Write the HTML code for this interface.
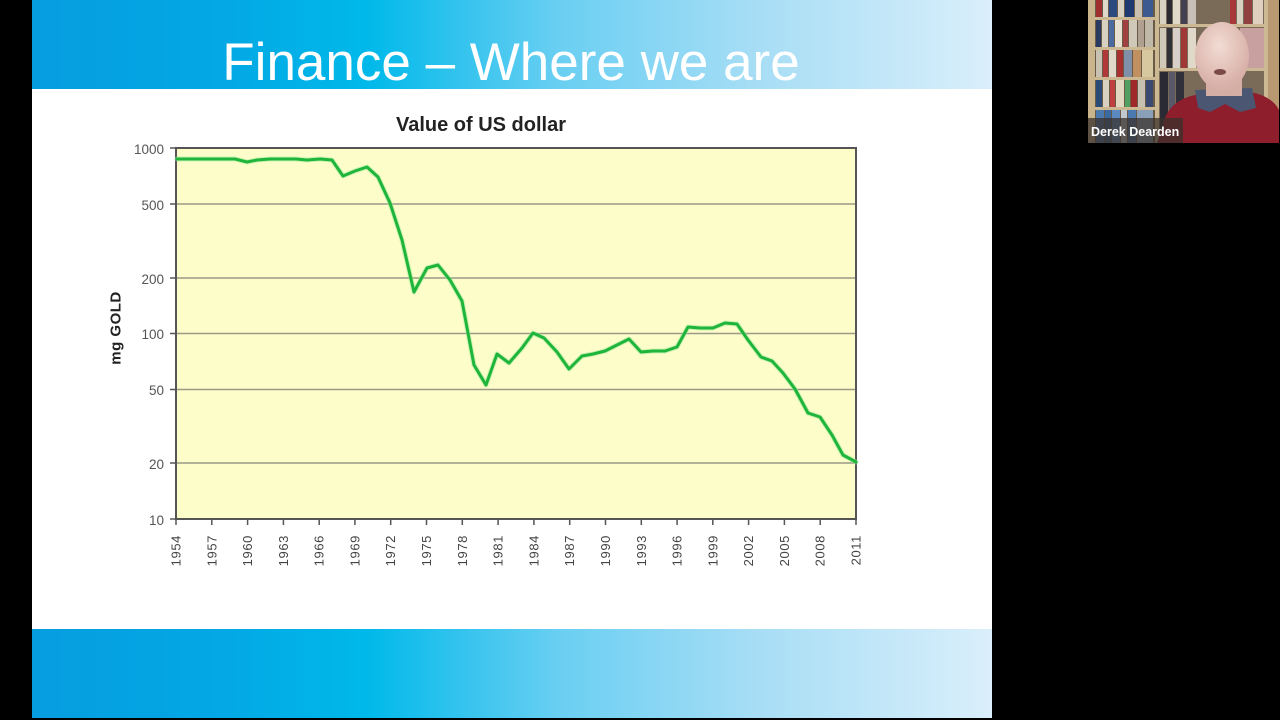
<!DOCTYPE html>
<html>
<head>
<meta charset="utf-8">
<style>
html,body{margin:0;padding:0;background:#000;}
body{width:1280px;height:720px;overflow:hidden;position:relative;}
svg{position:absolute;left:0;top:0;}
</style>
</head>
<body>
<svg width="1280" height="720" viewBox="0 0 1280 720" xmlns="http://www.w3.org/2000/svg">
  <defs>
    <linearGradient id="bar" x1="0" y1="0" x2="1" y2="0">
      <stop offset="0" stop-color="#069ddf"/>
      <stop offset="0.2" stop-color="#03a8e4"/>
      <stop offset="0.35" stop-color="#00b9ea"/>
      <stop offset="0.55" stop-color="#6acff2"/>
      <stop offset="0.75" stop-color="#a6ddf5"/>
      <stop offset="1" stop-color="#daeffb"/>
    </linearGradient>
    <radialGradient id="head" cx="0.45" cy="0.35" r="0.6">
      <stop offset="0" stop-color="#f2dcd4"/>
      <stop offset="1" stop-color="#d8b0a8"/>
    </radialGradient>
  </defs>

  <rect x="0" y="0" width="1280" height="720" fill="#000"/>
  <!-- slide -->
  <rect x="32" y="0" width="960" height="718" fill="#ffffff"/>
  <rect x="32" y="0" width="960" height="89" fill="url(#bar)"/>
  <rect x="32" y="629" width="960" height="89" fill="url(#bar)"/>

  <text x="511" y="80" font-family="Liberation Sans, Arial, sans-serif" font-size="53" fill="#ffffff" text-anchor="middle">Finance – Where we are</text>

  <!-- chart title -->
  <text x="481" y="131" font-family="Liberation Sans, Arial, sans-serif" font-size="20" font-weight="bold" fill="#222" text-anchor="middle">Value of US dollar</text>

  <!-- plot area -->
  <rect x="176" y="148" width="680" height="371" fill="#fdfdc9"/>
  <g stroke="#9a9a86" stroke-width="1.5">
    <line x1="176" y1="204" x2="856" y2="204"/>
    <line x1="176" y1="278" x2="856" y2="278"/>
    <line x1="176" y1="333.5" x2="856" y2="333.5"/>
    <line x1="176" y1="389.5" x2="856" y2="389.5"/>
    <line x1="176" y1="463" x2="856" y2="463"/>
  </g>
  <rect x="176" y="148" width="680" height="371" fill="none" stroke="#555" stroke-width="2"/>

  <!-- y ticks -->
  <g stroke="#555" stroke-width="1.5">
    <line x1="170" y1="148" x2="176" y2="148"/>
    <line x1="170" y1="204" x2="176" y2="204"/>
    <line x1="170" y1="278" x2="176" y2="278"/>
    <line x1="170" y1="333.5" x2="176" y2="333.5"/>
    <line x1="170" y1="389.5" x2="176" y2="389.5"/>
    <line x1="170" y1="463" x2="176" y2="463"/>
    <line x1="170" y1="519" x2="176" y2="519"/>
  </g>
  <g font-family="Liberation Sans, Arial, sans-serif" font-size="13.5" fill="#555" text-anchor="end">
    <text x="164" y="154">1000</text>
    <text x="164" y="210">500</text>
    <text x="164" y="284">200</text>
    <text x="164" y="339">100</text>
    <text x="164" y="395">50</text>
    <text x="164" y="469">20</text>
    <text x="164" y="525">10</text>
  </g>
  <text transform="translate(120.5,328) rotate(-90)" font-family="Liberation Sans, Arial, sans-serif" font-size="15" font-weight="bold" fill="#222" text-anchor="middle" letter-spacing="0.5">mg GOLD</text>

  <!-- x ticks & labels -->
  <g stroke="#555" stroke-width="1.5">
    <line x1="176" y1="519" x2="176" y2="525"/>
    <line x1="211.8" y1="519" x2="211.8" y2="525"/>
    <line x1="247.6" y1="519" x2="247.6" y2="525"/>
    <line x1="283.4" y1="519" x2="283.4" y2="525"/>
    <line x1="319.2" y1="519" x2="319.2" y2="525"/>
    <line x1="354.9" y1="519" x2="354.9" y2="525"/>
    <line x1="390.7" y1="519" x2="390.7" y2="525"/>
    <line x1="426.5" y1="519" x2="426.5" y2="525"/>
    <line x1="462.3" y1="519" x2="462.3" y2="525"/>
    <line x1="498.1" y1="519" x2="498.1" y2="525"/>
    <line x1="533.9" y1="519" x2="533.9" y2="525"/>
    <line x1="569.7" y1="519" x2="569.7" y2="525"/>
    <line x1="605.5" y1="519" x2="605.5" y2="525"/>
    <line x1="641.3" y1="519" x2="641.3" y2="525"/>
    <line x1="677.1" y1="519" x2="677.1" y2="525"/>
    <line x1="712.8" y1="519" x2="712.8" y2="525"/>
    <line x1="748.6" y1="519" x2="748.6" y2="525"/>
    <line x1="784.4" y1="519" x2="784.4" y2="525"/>
    <line x1="820.2" y1="519" x2="820.2" y2="525"/>
    <line x1="856" y1="519" x2="856" y2="525"/>
  </g>
  <g font-family="Liberation Sans, Arial, sans-serif" font-size="13" fill="#444" text-anchor="end" letter-spacing="0.6">
    <text transform="translate(180.5,535) rotate(-90)">1954</text>
    <text transform="translate(216.3,535) rotate(-90)">1957</text>
    <text transform="translate(252.1,535) rotate(-90)">1960</text>
    <text transform="translate(287.9,535) rotate(-90)">1963</text>
    <text transform="translate(323.7,535) rotate(-90)">1966</text>
    <text transform="translate(359.4,535) rotate(-90)">1969</text>
    <text transform="translate(395.2,535) rotate(-90)">1972</text>
    <text transform="translate(431,535) rotate(-90)">1975</text>
    <text transform="translate(466.8,535) rotate(-90)">1978</text>
    <text transform="translate(502.6,535) rotate(-90)">1981</text>
    <text transform="translate(538.4,535) rotate(-90)">1984</text>
    <text transform="translate(574.2,535) rotate(-90)">1987</text>
    <text transform="translate(610,535) rotate(-90)">1990</text>
    <text transform="translate(645.8,535) rotate(-90)">1993</text>
    <text transform="translate(681.6,535) rotate(-90)">1996</text>
    <text transform="translate(717.3,535) rotate(-90)">1999</text>
    <text transform="translate(753.1,535) rotate(-90)">2002</text>
    <text transform="translate(788.9,535) rotate(-90)">2005</text>
    <text transform="translate(824.7,535) rotate(-90)">2008</text>
    <text transform="translate(860.5,535) rotate(-90)">2011</text>
  </g>

  <!-- data line -->
  <polyline fill="none" stroke="#9be89a" stroke-width="5" stroke-linejoin="round" stroke-linecap="round" opacity="0.5"
    points="177,159 189,159 201,159 213,159 225,159 235,159 247,162 257,160 270,159 282,159 296,159 307,160 320,159 332,160 343,176 355,171 367,167 378,177 390,203 402,240 414,292 427,268 438,265 450,280 462,301 468,333 474,365 486,385 497,354 509,363 522,348 533,333 544,338 557,352 569,369 582,356 593,354 605,351 617,345 629,339 641,352 653,351 665,351 677,347 688,327 700,328 713,328 725,323 737,324 748,340 761,357 772,361 783,373 795,389 808,413 820,417 832,435 843,455 856,462"/>
  <polyline fill="none" stroke="#1fb53a" stroke-width="3" stroke-linejoin="round" stroke-linecap="round"
    points="177,159 189,159 201,159 213,159 225,159 235,159 247,162 257,160 270,159 282,159 296,159 307,160 320,159 332,160 343,176 355,171 367,167 378,177 390,203 402,240 414,292 427,268 438,265 450,280 462,301 468,333 474,365 486,385 497,354 509,363 522,348 533,333 544,338 557,352 569,369 582,356 593,354 605,351 617,345 629,339 641,352 653,351 665,351 677,347 688,327 700,328 713,328 725,323 737,324 748,340 761,357 772,361 783,373 795,389 808,413 820,417 832,435 843,455 856,462"/>

  <!-- webcam -->
  <g>
    <rect x="1088" y="0" width="191" height="143" fill="#8a7a62"/>
    <rect x="1088" y="0" width="7" height="143" fill="#c9b48c"/>
    <!-- shelves background -->
    <rect x="1095" y="0" width="60" height="143" fill="#6a5a48"/>
    <rect x="1158" y="0" width="120" height="143" fill="#7a6a58"/>
    <!-- books left column -->
    <g>
      <rect x="1096" y="0" width="6" height="17" fill="#a03030"/>
      <rect x="1103" y="0" width="5" height="17" fill="#e0d8c8"/>
      <rect x="1109" y="0" width="8" height="17" fill="#2a4a80"/>
      <rect x="1118" y="0" width="6" height="17" fill="#d8d0c0"/>
      <rect x="1125" y="0" width="9" height="17" fill="#1e3a70"/>
      <rect x="1135" y="0" width="7" height="17" fill="#c8c0b0"/>
      <rect x="1143" y="0" width="10" height="17" fill="#3a5a90"/>
      <rect x="1096" y="20" width="5" height="27" fill="#2a3a60"/>
      <rect x="1102" y="20" width="6" height="27" fill="#d8d0c0"/>
      <rect x="1109" y="20" width="5" height="27" fill="#4a6aa0"/>
      <rect x="1115" y="20" width="7" height="27" fill="#e8e0d0"/>
      <rect x="1123" y="20" width="5" height="27" fill="#a04040"/>
      <rect x="1129" y="20" width="8" height="27" fill="#d0c8b8"/>
      <rect x="1138" y="20" width="6" height="27" fill="#b0a090"/>
      <rect x="1145" y="20" width="8" height="27" fill="#c0b8a8"/>
      <rect x="1096" y="50" width="6" height="27" fill="#c8c0b0"/>
      <rect x="1103" y="50" width="5" height="27" fill="#b03838"/>
      <rect x="1109" y="50" width="7" height="27" fill="#e0d8c8"/>
      <rect x="1117" y="50" width="6" height="27" fill="#a83030"/>
      <rect x="1124" y="50" width="8" height="27" fill="#8090a8"/>
      <rect x="1133" y="50" width="8" height="27" fill="#c09060"/>
      <rect x="1142" y="50" width="11" height="27" fill="#d8c8a0"/>
      <rect x="1096" y="80" width="6" height="27" fill="#2a4a78"/>
      <rect x="1103" y="80" width="6" height="27" fill="#d8d0c0"/>
      <rect x="1110" y="80" width="5" height="27" fill="#c04040"/>
      <rect x="1116" y="80" width="8" height="27" fill="#e0d8c0"/>
      <rect x="1125" y="80" width="5" height="27" fill="#50a060"/>
      <rect x="1131" y="80" width="6" height="27" fill="#a02828"/>
      <rect x="1138" y="80" width="7" height="27" fill="#c8c0b0"/>
      <rect x="1146" y="80" width="7" height="27" fill="#3a4a70"/>
      <rect x="1096" y="110" width="8" height="33" fill="#4a7ab0"/>
      <rect x="1105" y="110" width="6" height="33" fill="#3a6aa0"/>
      <rect x="1112" y="110" width="8" height="33" fill="#5a8ac0"/>
      <rect x="1121" y="110" width="6" height="33" fill="#c0c8d0"/>
      <rect x="1128" y="110" width="8" height="33" fill="#4a7ab0"/>
      <rect x="1137" y="110" width="16" height="33" fill="#8aa0b8"/>
    </g>
    <g fill="#cdb894">
      <rect x="1095" y="17" width="60" height="3"/>
      <rect x="1095" y="47" width="60" height="3"/>
      <rect x="1095" y="77" width="60" height="3"/>
      <rect x="1095" y="107" width="60" height="3"/>
      <rect x="1155" y="0" width="4" height="143"/>
      <rect x="1159" y="24" width="120" height="3"/>
      <rect x="1159" y="68" width="120" height="3"/>
      <rect x="1264" y="0" width="4" height="143"/>
    </g>
    <!-- books right -->
    <g>
      <rect x="1160" y="0" width="6" height="24" fill="#d8d0c0"/>
      <rect x="1167" y="0" width="5" height="24" fill="#2a2a30"/>
      <rect x="1173" y="0" width="7" height="24" fill="#e0d8c8"/>
      <rect x="1181" y="0" width="6" height="24" fill="#404050"/>
      <rect x="1188" y="0" width="8" height="24" fill="#c8c0b8"/>
      <rect x="1230" y="0" width="6" height="24" fill="#a83838"/>
      <rect x="1237" y="0" width="6" height="24" fill="#d8d0c0"/>
      <rect x="1244" y="0" width="8" height="24" fill="#904040"/>
      <rect x="1253" y="0" width="10" height="24" fill="#e0d0c0"/>
      <rect x="1160" y="28" width="6" height="40" fill="#d0c8b8"/>
      <rect x="1167" y="28" width="5" height="40" fill="#303038"/>
      <rect x="1173" y="28" width="7" height="40" fill="#d8d0c8"/>
      <rect x="1181" y="28" width="6" height="40" fill="#a03838"/>
      <rect x="1188" y="28" width="8" height="40" fill="#e0d8c8"/>
      <rect x="1240" y="28" width="24" height="40" fill="#c8a0a0"/>
      <rect x="1160" y="72" width="8" height="71" fill="#2a2a34"/>
      <rect x="1169" y="72" width="6" height="71" fill="#585868"/>
      <rect x="1176" y="72" width="8" height="71" fill="#30303a"/>
      <rect x="1268" y="0" width="11" height="143" fill="#b89870"/>
    </g>
    <!-- person -->
    <path d="M1157,143 L1165,118 Q1172,100 1195,95 L1250,92 Q1272,96 1279,110 L1279,143 Z" fill="#8e1e2c"/>
    <path d="M1195,90 L1252,88 L1256,108 L1240,112 L1225,104 L1210,112 L1198,108 Z" fill="#4a5672"/>
    <rect x="1206" y="78" width="36" height="18" fill="#d4ada4"/>
    <ellipse cx="1222" cy="56" rx="27" ry="34" fill="url(#head)"/>
    <ellipse cx="1220" cy="72" rx="6" ry="3" fill="#7a4a48"/>
    <!-- name label -->
    <rect x="1088" y="118" width="95" height="25" fill="#3a322c" opacity="0.75"/>
    <text x="1091" y="136" font-family="Liberation Sans, Arial, sans-serif" font-size="12.5" font-weight="bold" fill="#ffffff">Derek Dearden</text>
  </g>
</svg>
</body>
</html>
